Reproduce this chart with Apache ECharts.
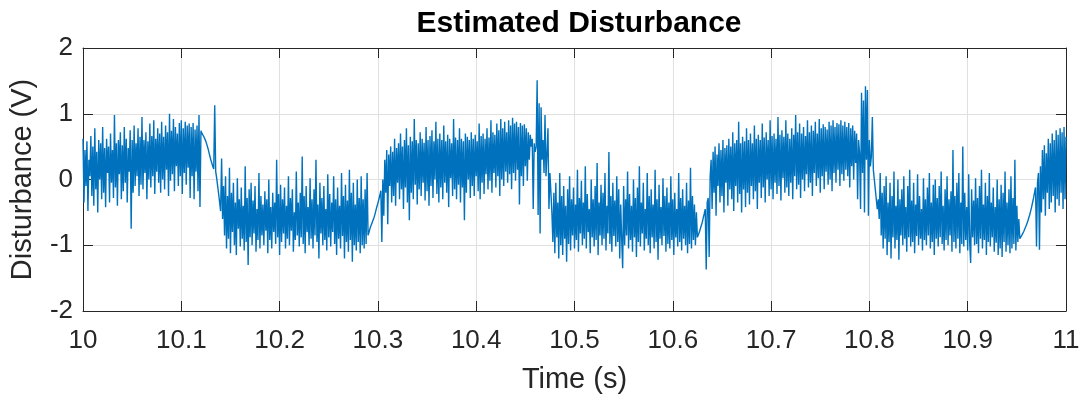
<!DOCTYPE html>
<html>
<head>
<meta charset="utf-8">
<title>Estimated Disturbance</title>
<script src="https://cdn.jsdelivr.net/npm/echarts@6/dist/echarts.min.js"></script>
<style>
  html, body { margin: 0; padding: 0; background: #fff; }
  #chart { width: 1084px; height: 399px; }
</style>
</head>
<body>
<div id="chart"></div>
<script>
// Sampling grid of the estimator output (1 kHz, 10 s .. 11 s)
const T_START = 10;
const T_STEP = 0.001;

// Estimated disturbance (V), one array per phase of the square-wave load
const highA = [
  0.62, -0.35, 0.45, -0.1, 0.58, -0.48, 0.3, 0.05, 0.66, -0.25,
  0.5, -0.4, 0.78, -0.15, 0.42, -0.5, 0.6, 0.0, 0.55, -0.3,
  0.8, -0.2, 0.48, -0.42, 0.62, 0.1, 0.5, -0.35, 0.7, -0.05,
  0.45, -0.28, 0.98, -0.12, 0.55, -0.4, 0.6, 0.08, 0.72, -0.3,
  0.52, -0.18, 0.8, -0.05, 0.62, -0.35, 0.48, 0.12, 0.75, -0.75,
  0.6, -0.2, 0.82, -0.1, 0.55, 0.05, 0.78, -0.25, 0.65, -0.08,
  0.95, -0.15, 0.6, 0.1, 0.72, -0.3, 0.58, 0.0, 0.85, -0.12,
  0.66, 0.05, 0.9, -0.22, 0.62, 0.12, 0.78, -0.05, 0.7, -0.2,
  0.88, 0.0, 0.65, -0.15, 0.82, 0.15, 0.72, -0.25, 1.0, -0.02,
  0.74, 0.08, 0.92, -0.18, 0.8, 0.2, 0.7, -0.1, 0.86, 0.05,
  0.9, -0.22, 0.78, 0.1, 0.88, -0.08, 0.82, 0.18, 0.85, -0.28,
  0.8, 0.05, 0.86, -0.3, 0.76, 0.12, 0.82, -0.18, 0.98, -0.42,
  0.74, 0.7
];
const fallA = [
  0.68, 0.65, 0.62, 0.58, 0.53, 0.48, 0.42, 0.36, 0.3, 0.25,
  0.2, 0.16, 1.13, 0.12, 0.02, -0.1, -0.22, -0.35, -0.48, 0.32
];
const lowB = [
  -0.6, -0.1, -0.85, 0.05, -1.05, -0.25, -0.9, 0.18, -1.12, -0.2,
  -0.8, -0.05, -1.0, -0.35, -1.15, 0.02, -0.75, -0.3, -1.02, -0.12,
  -0.9, -0.4, -1.08, 0.2, -0.95, -0.28, -1.3, -0.15, -0.88, -0.05,
  -1.0, -0.32, -0.82, -0.1, -1.1, -0.45, -0.92, 0.1, -1.05, -0.25,
  -0.85, -0.38, -1.0, -0.18, -0.78, -0.3, -1.12, 0.0, -0.92, -0.42,
  -1.05, -0.2, -0.8, -0.35, -0.98, 0.3, -0.88, -0.22, -1.15, -0.08,
  -0.95, -0.3, -0.82, -0.12, -1.05, -0.4, -0.9, 0.05, -1.0, -0.28,
  -0.78, -0.15, -1.1, -0.5, -0.92, 0.12, -0.85, -0.35, -1.02, -0.2,
  -0.88, 0.35, -0.98, -0.25, -1.12, -0.1, -0.8, -0.42, -1.0, 0.02,
  -0.9, -0.3, -1.05, -0.15, -0.85, 0.3, -0.95, -0.38, -1.2, -0.05,
  -0.82, -0.28, -1.0, -0.1, -0.92, -0.45, -1.08, 0.08, -0.88, -0.22,
  -1.02, -0.35, -0.8, 0.05, -0.98, -0.3, -1.15, -0.12, -0.9, -0.4,
  -1.05, 0.1, -0.86, -0.25, -1.2, -0.08, -0.95, -0.32, -1.1, 0.15,
  -0.92, -0.2, -1.25, -0.05, -1.0, -0.38, -1.08, 0.0, -0.95, -0.28,
  -1.12, 0.05, -1.0, -0.3, -1.05, -0.15, -0.98, 0.1
];
const riseB = [
  -0.85, -0.8, -0.74, -0.7, -0.66, -0.62, -0.58, -0.53, -0.47, -0.41,
  -0.36, -0.3, -0.24, -0.17, -0.95
];
const highC = [
  0.0, -0.55, 0.3, -0.2, 0.45, -0.68, 0.38, -0.1, 0.5, -0.35,
  0.42, -0.25, 0.62, -0.4, 0.48, -0.05, 0.55, -0.3, 0.7, -0.15,
  0.5, -0.45, 0.6, -0.12, 0.78, -0.35, 0.52, -0.62, 0.65, -0.2,
  0.58, -0.3, 0.92, -0.08, 0.6, -0.38, 0.55, -0.15, 0.72, -0.25,
  0.62, -0.05, 0.56, -0.32, 0.8, -0.18, 0.6, -0.4, 0.66, -0.1,
  0.75, -0.28, 0.58, 0.0, 0.88, -0.22, 0.62, -0.35, 0.7, -0.12,
  0.6, -0.3, 0.82, -0.05, 0.58, -0.2, 0.68, -0.42, 0.62, 0.02,
  0.55, -0.25, 0.92, -0.15, 0.64, -0.3, 0.6, -0.08, 0.78, -0.35,
  0.62, -0.12, 0.58, -0.62, 0.7, -0.2, 0.65, 0.0, 0.6, -0.28,
  0.72, -0.1, 0.62, -0.25, 0.68, 0.05, 0.58, -0.18, 0.85, -0.3,
  0.66, -0.05, 0.7, -0.22, 0.62, 0.08, 0.78, -0.15, 0.64, -0.02,
  0.9, -0.2, 0.72, 0.1, 0.68, -0.12, 0.85, 0.05, 0.75, -0.25,
  0.92, 0.0, 0.78, -0.1, 0.88, 0.12, 0.72, -0.05, 0.9, 0.08,
  0.82, -0.15, 0.94, 0.1, 0.85, -0.02, 0.88, 0.15, 0.8, -0.38,
  0.86, 0.05, 0.82, -0.1, 0.84, 0.2, 0.78, -0.02, 0.72, 0.3
];
const fallC = [
  0.68, 0.5, 0.62, -0.45, 0.55, 0.42, 0.5, 1.51, -0.54, 1.16,
  -0.82, 1.1, 0.3, 0.6, 0.1, 0.98, 0.05, 0.4, 0.78, -0.45,
  0.1, -0.2, -0.5
];
const lowD = [
  -0.95, -0.2, -1.12, -0.05, -0.88, -0.35, -1.2, 0.1, -1.0, -0.25,
  -1.15, -0.1, -0.9, -0.4, -1.25, -0.15, -0.98, 0.05, -1.08, -0.3,
  -0.85, -0.12, -1.05, -0.38, -0.92, 0.15, -1.1, -0.28, -0.82, -0.02,
  -1.0, -0.35, -0.9, 0.2, -1.05, -0.22, -0.8, -0.45, -1.12, 0.0,
  -0.88, -0.3, -1.02, -0.1, -0.92, 0.25, -1.15, -0.35, -0.85, -0.08,
  -1.0, -0.2, -0.9, 0.1, -1.08, -0.4, -0.82, 0.42, -0.98, -0.25,
  -1.1, -0.05, -0.86, -0.32, -1.02, 0.05, -0.95, -0.15, -1.2, -0.38,
  -0.9, -1.35, -0.1, -1.0, -0.3, -0.85, 0.12, -1.05, -0.22, -0.92,
  -0.4, -1.1, 0.0, -0.88, -0.28, -1.18, -0.12, -0.95, 0.2, -1.02,
  -0.35, -0.82, -0.05, -1.08, -0.45, -0.9, 0.1, -1.0, -0.25, -1.12,
  -0.15, -0.88, -0.38, -1.05, 0.15, -0.95, -0.3, -1.22, -0.08, -0.9,
  -0.42, -1.0, 0.02, -0.86, -0.25, -1.1, -0.12, -0.98, -0.35, -1.05,
  0.05, -0.92, -0.3, -1.15, -0.2, -0.88, -0.45, -1.02, 0.1, -0.95,
  -0.28, -1.08, -0.15, -0.9, -0.4, -1.0, -0.05, -1.12, -0.32, -0.98,
  0.18, -1.05, -0.25, -0.92, -0.38, -1.0, -0.5
];
const riseD = [
  -0.88, -0.84, -0.8, -0.75, -0.7, -0.65, -0.58, -0.52, -0.45, -1.37,
  -0.35, -0.28, -1.18, 0.05
];
const highE = [
  0.3, -0.45, 0.42, -0.2, 0.5, -0.55, 0.38, -0.1, 0.55, -0.35,
  0.45, -0.25, 0.6, -0.5, 0.48, -0.05, 0.52, -0.4, 0.62, -0.15,
  0.5, -0.3, 0.72, -0.48, 0.55, -0.1, 0.6, -0.35, 0.88, -0.22,
  0.55, -0.5, 0.65, -0.15, 0.58, -0.42, 0.78, -0.2, 0.6, -0.38,
  0.7, -0.1, 0.55, -0.3, 0.82, -0.18, 0.62, -0.45, 0.68, -0.05,
  0.6, -0.28, 0.85, -0.12, 0.64, -0.35, 0.72, 0.0, 0.6, -0.25,
  0.9, -0.15, 0.66, -0.3, 0.7, -0.05, 0.62, -0.22, 0.95, -0.1,
  0.68, -0.32, 0.75, 0.02, 0.65, -0.2, 0.9, -0.12, 0.7, -0.25,
  0.62, -0.05, 0.78, -0.3, 0.68, 0.05, 0.98, -0.15, 0.72, -0.08,
  0.85, -0.28, 0.7, 0.0, 0.8, -0.18, 0.66, 0.08, 0.9, -0.12,
  0.72, -0.05, 0.82, -0.25, 0.74, 0.1, 0.88, -0.1, 0.7, 0.02,
  0.92, -0.2, 0.78, 0.05, 0.84, -0.15, 0.8, 0.12, 0.76, -0.08,
  0.88, 0.0, 0.82, -0.18, 0.9, 0.1, 0.8, -0.05, 0.86, 0.15,
  0.84, -0.1, 0.9, 0.08, 0.82, -0.02, 0.88, 0.15, 0.8, 0.05,
  0.86, -0.12, 0.78, 0.2, 0.82, 0.0, 0.74, 0.25, 0.7, -0.3,
  0.6
];
const fallE = [
  0.4, -0.45, 1.32, 0.1, 1.2, -0.5, 1.42, 0.3, 1.36, -0.55,
  0.6, 0.2, 0.35, 0.95, 0.15, 0.0, -0.15, -0.3, -0.45
];
const lowF = [
  -0.3, -0.6, 0.1, -0.85, -0.2, -1.05, -0.1, -0.9, 0.05, -1.15,
  -0.35, -0.95, -0.05, -1.2, -0.25, -0.88, 0.12, -1.05, -0.4, -0.92,
  0.0, -1.22, -0.3, -0.85, -0.15, -1.0, 0.05, -0.9, -0.42, -1.1,
  -0.1, -0.88, 0.15, -1.02, -0.32, -0.95, -0.05, -1.12, -0.38, -0.86,
  0.08, -1.0, -0.25, -0.9, -0.45, -1.08, 0.02, -0.92, -0.3, -1.0,
  -0.12, -0.85, 0.1, -1.05, -0.35, -0.95, -0.08, -1.15, 0.0, -0.9,
  -0.28, -1.02, -0.1, -0.88, 0.12, -0.98, -0.4, -1.08, -0.15, -0.92,
  0.05, -1.0, -0.3, -0.85, -0.18, -1.1, 0.45, -0.95, -0.25, -1.05,
  -0.05, -0.9, 0.1, -1.12, -0.35, -0.98, 0.5, -1.02, -0.2, -0.92,
  -0.42, -1.08, 0.08, -0.95, -1.27, -0.15, -0.88, -0.32, -1.0, 0.02,
  -0.98, -0.28, -1.12, -0.1, -0.9, 0.15, -1.05, -0.38, -0.92, -0.05,
  -1.15, -0.25, -0.95, 0.1, -1.02, -0.35, -0.88, -0.12, -1.1, -0.42,
  -0.96, 0.0, -1.15, -0.3, -1.05, -0.08, -1.18, -0.2, -0.95, 0.12,
  -1.1, -0.35, -1.0, -0.15, -1.12, 0.05, -1.05, -0.28, -0.98, 0.3,
  -1.08, -0.4, -0.95, -0.6
];
const riseF = [
  -0.9, -0.88, -0.85, -0.82, -0.79, -0.76, -0.72, -0.68, -0.64, -0.59,
  -0.54, -0.48, -0.42, -0.35, -0.28, -0.2, -0.12, -1.02, -0.05, 0.1,
  -1.07
];
const highG = [
  0.2, -0.5, 0.45, -0.3, 0.52, -0.55, 0.4, -0.2, 0.62, -0.45,
  0.55, -0.35, 0.7, -0.25, 0.6, -0.5, 0.75, -0.3, 0.68, -0.4,
  0.78, -0.2, 0.72, -0.45, 0.8, -0.3, 0.65
];

const disturbance = [].concat(
  highA, fallA, lowB, riseB, highC, fallC, lowD, riseD,
  highE, fallE, lowF, riseF, highG
);
const seriesData = disturbance.map((v, i) => [+(T_START + i * T_STEP).toFixed(3), v]);

const FONT = '"Liberation Sans", Arial, Helvetica, sans-serif';
const INK = '#262626';

const chart = echarts.init(document.getElementById('chart'), null, { renderer: 'canvas' });
chart.setOption({
  animation: false,
  backgroundColor: '#ffffff',
  title: {
    text: 'Estimated Disturbance',
    left: 574,
    top: 4,
    textAlign: 'center',
    textStyle: { fontFamily: FONT, fontSize: 30, fontWeight: 'bold', color: '#000' }
  },
  grid: { left: 83, right: 18, top: 48, bottom: 88, containLabel: false },
  xAxis: [{
    type: 'value', min: 10, max: 11, interval: 0.1,
    name: 'Time (s)', nameLocation: 'middle', nameGap: 54,
    nameTextStyle: { fontFamily: FONT, fontSize: 29, color: INK },
    axisLine: { show: true, onZero: false, lineStyle: { color: INK, width: 1 } },
    axisTick: { show: true, inside: true, length: 10, lineStyle: { color: INK } },
    axisLabel: {
      fontFamily: FONT, fontSize: 26, color: INK, margin: 17,
      formatter: v => String(Number(v.toFixed(1)))
    },
    splitLine: { show: true, lineStyle: { color: '#e0e0e0', width: 1 } }
  }, {
    type: 'value', min: 10, max: 11, interval: 0.1, position: 'top',
    axisLine: { show: true, onZero: false, lineStyle: { color: INK, width: 1 } },
    axisTick: { show: true, inside: true, length: 10, lineStyle: { color: INK } },
    axisLabel: { show: false }, splitLine: { show: false }
  }],
  yAxis: [{
    type: 'value', min: -2, max: 2, interval: 1,
    name: 'Disturbance (V)', nameLocation: 'middle', nameGap: 46,
    nameTextStyle: { fontFamily: FONT, fontSize: 29, color: INK },
    axisLine: { show: true, onZero: false, lineStyle: { color: INK, width: 1 } },
    axisTick: { show: true, inside: true, length: 10, lineStyle: { color: INK } },
    axisLabel: { fontFamily: FONT, fontSize: 26, color: INK, margin: 10 },
    splitLine: { show: true, lineStyle: { color: '#e0e0e0', width: 1 } }
  }, {
    type: 'value', min: -2, max: 2, interval: 1, position: 'right',
    axisLine: { show: true, onZero: false, lineStyle: { color: INK, width: 1 } },
    axisTick: { show: true, inside: true, length: 10, lineStyle: { color: INK } },
    axisLabel: { show: false }, splitLine: { show: false }
  }],
  series: [{
    type: 'line',
    data: seriesData,
    showSymbol: false,
    sampling: null,
    clip: true,
    lineStyle: { color: '#0072BD', width: 1.4 },
    emphasis: { disabled: true }
  }]
});
</script>
</body>
</html>
